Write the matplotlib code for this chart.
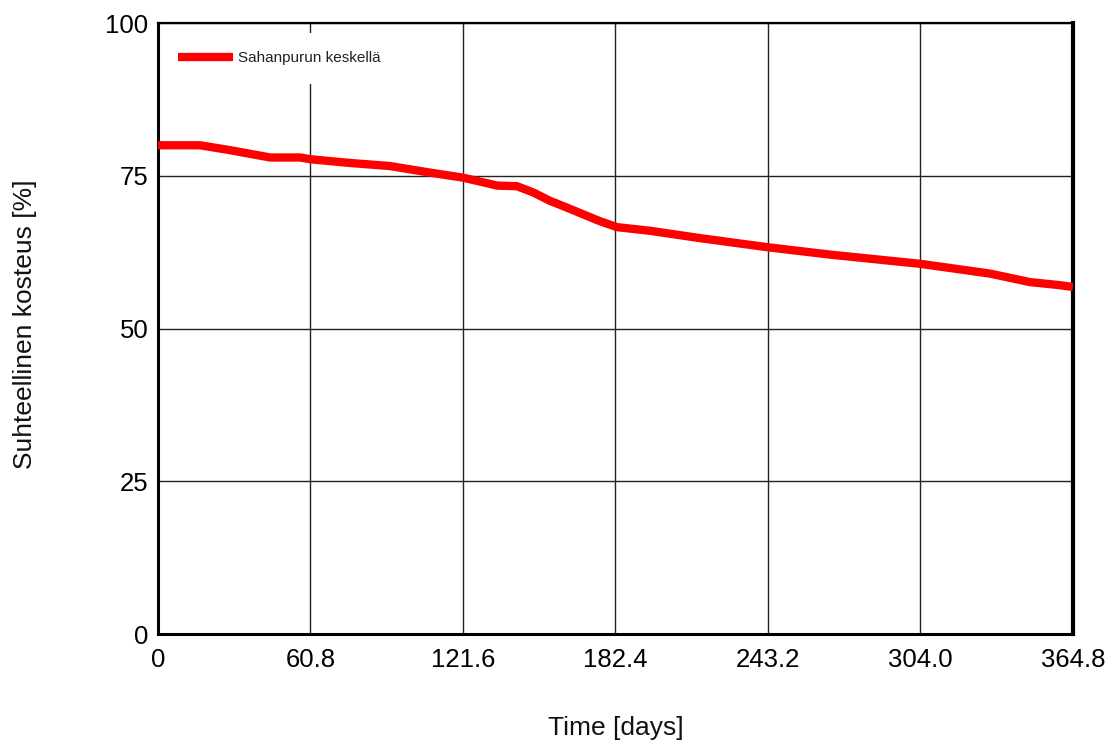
import matplotlib
matplotlib.use("Agg")
import matplotlib.pyplot as plt

plt.rcParams['font.family'] = ['Liberation Sans', 'DejaVu Sans']

# Relative humidity in the middle of the sawdust layer over one year
days = [0, 16.7, 28.7, 44.7, 56.6, 61.0, 76.6, 92.5, 107.3, 121.6, 130.0, 135.2, 143.1,
        149.5, 156.3, 163.0, 169.5, 176.0, 183.0, 196.2, 216.1, 243.2, 268.0, 303.8,
        331.7, 347.7, 359.6, 364.8]
humidity = [80.0, 80.0, 79.2, 78.0, 78.0, 77.7, 77.1, 76.6, 75.6, 74.7, 73.9, 73.4, 73.3,
            72.3, 70.9, 69.8, 68.7, 67.6, 66.6, 66.0, 64.8, 63.3, 62.1, 60.6,
            59.0, 57.6, 57.1, 56.8]

x_ticks = [0, 60.8, 121.6, 182.4, 243.2, 304.0, 364.8]
x_tick_labels = ["0", "60.8", "121.6", "182.4", "243.2", "304.0", "364.8"]
y_ticks = [0, 25, 50, 75, 100]

series_label = "Sahanpurun keskellä"
x_label = "Time [days]"
y_label = "Suhteellinen kosteus [%]"

fig = plt.figure(figsize=(11.15, 7.44), dpi=100)
ax = fig.add_axes([0.1417, 0.1478, 0.9623 - 0.1417, 0.969 - 0.1478])

ax.plot(days, humidity, color="#ff0000", linewidth=6, solid_capstyle="butt",
        solid_joinstyle="round", label=series_label, zorder=3)

ax.set_xlim(0, 364.8)
ax.set_ylim(0, 100)
ax.set_xticks(x_ticks)
ax.set_xticklabels(x_tick_labels)
ax.set_yticks(y_ticks)
ax.tick_params(axis="both", length=0, labelsize=18.5, colors="black")
ax.tick_params(axis="x", pad=10)
ax.tick_params(axis="y", pad=7)

ax.grid(True, color="#222222", linewidth=1.0)
ax.set_axisbelow(True)

for side, lw in (("left", 2.2), ("bottom", 2.2), ("right", 3.0), ("top", 1.6)):
    ax.spines[side].set_linewidth(lw)
    ax.spines[side].set_color("black")

ax.set_xlabel(x_label, fontsize=19, color="#111111", labelpad=32)
ax.set_ylabel(y_label, fontsize=19, color="#111111")
ax.yaxis.set_label_coords(-0.1322, 0.507)

leg = ax.legend(loc="upper left", bbox_to_anchor=(-0.007, 0.996), fontsize=11,
                handlelength=3.6, handletextpad=0.35, borderpad=1.2,
                frameon=True, fancybox=False, framealpha=1.0)
leg.get_frame().set_edgecolor("none")
leg.get_frame().set_facecolor("white")
leg.set_zorder(2.4)  # keep the frame beneath the spines
for t in leg.get_texts():
    t.set_color("#222222")

fig.savefig("out.png", dpi=100)
